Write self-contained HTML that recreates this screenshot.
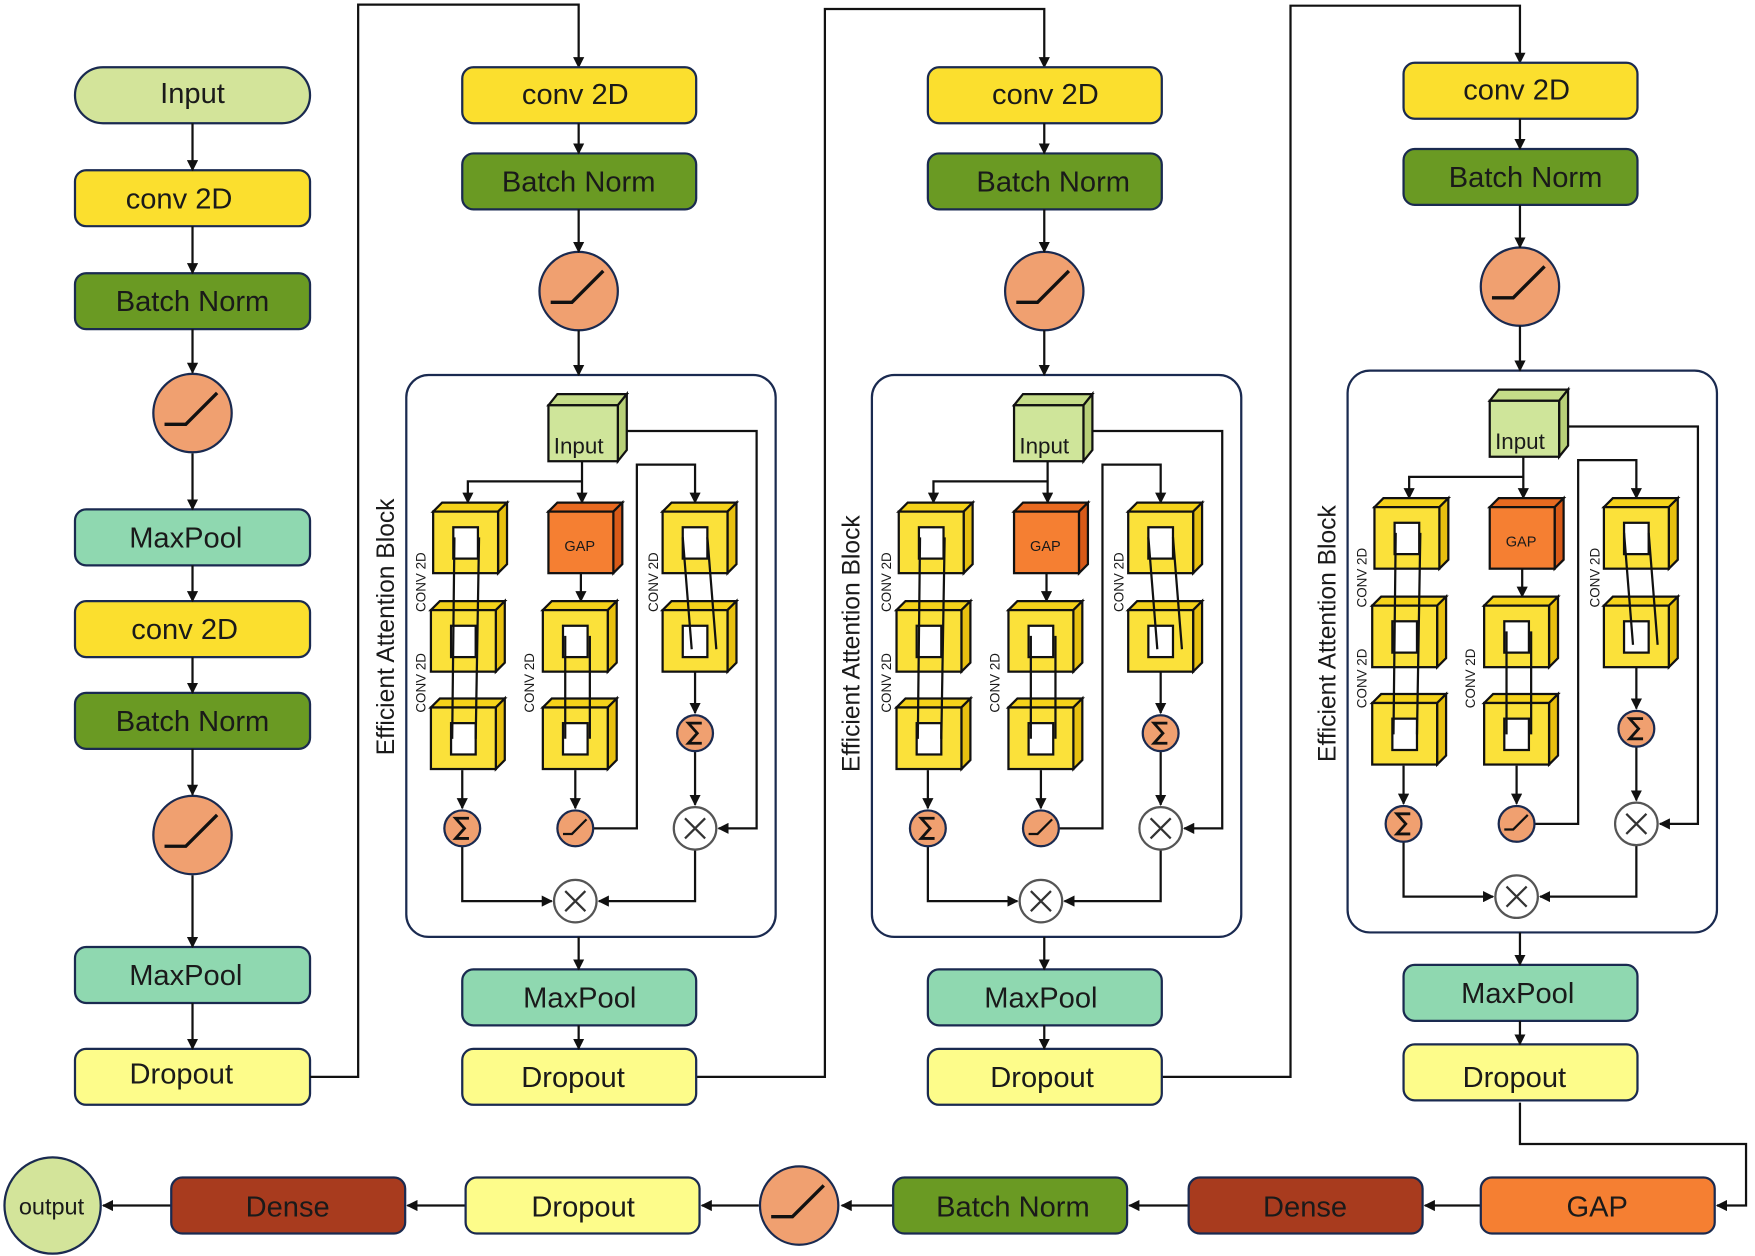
<!DOCTYPE html>
<html><head><meta charset="utf-8"><style>
html,body{margin:0;padding:0;background:#fff}
svg{display:block}
text{font-family:"Liberation Sans",Arial,sans-serif;fill:#1a1a1a}
</style></head><body>
<svg width="1755" height="1256" viewBox="0 0 1568 1122" xmlns="http://www.w3.org/2000/svg">
<defs>
<marker id="ar" markerWidth="10" markerHeight="10" refX="9" refY="5" orient="auto" markerUnits="userSpaceOnUse"><path d="M0,0 L10,5 L0,10 z" fill="#111"/></marker>
<g id="cy">
 <polygon points="0,8 8,0 66,0 58,8" fill="#f5d21a" stroke="#111" stroke-width="2"/>
 <polygon points="58,8 66,0 66,55 58,63" fill="#e8c010" stroke="#111" stroke-width="2"/>
 <rect x="0" y="8" width="58" height="55" fill="#fbe13a" stroke="#111" stroke-width="2"/>
 <rect x="18" y="22" width="22" height="28" fill="#fff" stroke="#111" stroke-width="2"/>
</g>
<g id="cg">
 <polygon points="0,8 8,0 66,0 58,8" fill="#e86a20" stroke="#111" stroke-width="2"/>
 <polygon points="58,8 66,0 66,55 58,63" fill="#d85a18" stroke="#111" stroke-width="2"/>
 <rect x="0" y="8" width="58" height="55" fill="#f57f32" stroke="#111" stroke-width="2"/>
</g>
<g id="ci">
 <polygon points="0,10 8,0 70,0 62,10" fill="#c5dc88" stroke="#111" stroke-width="2"/>
 <polygon points="62,10 70,0 70,50 62,60" fill="#b8d078" stroke="#111" stroke-width="2"/>
 <rect x="0" y="10" width="62" height="50" fill="#cfe59a" stroke="#111" stroke-width="2"/>
</g>
<g id="relu">
 <circle r="35" fill="#f0a070" stroke="#1a2a50" stroke-width="2"/>
 <path d="M-25,10 L-6,10 L22,-18" fill="none" stroke="#111" stroke-width="3"/>
</g>
<g id="srelu">
 <circle r="16" fill="#f0a070" stroke="#1a2a50" stroke-width="2"/>
 <path d="M-11,5 L-3,5 L10,-8" fill="none" stroke="#111" stroke-width="2"/>
</g>
<g id="sig">
 <circle r="16" fill="#f0a070" stroke="#1a2a50" stroke-width="2"/>
 <path d="M6,-9 L-6,-9 L2,0 L-6,9 L6,9" fill="none" stroke="#111" stroke-width="2.5"/>
</g>
<g id="mul">
 <circle r="19" fill="#fff" stroke="#555" stroke-width="2"/>
 <path d="M-9,-9 L9,9 M9,-9 L-9,9" stroke="#333" stroke-width="2"/>
</g>
</defs>

<g stroke="#1a2a50" stroke-width="2">
<!-- left column -->
<rect x="67" y="60" width="210" height="50" rx="25" fill="#d3e49a"/>
<rect x="67" y="152" width="210" height="50" rx="10" fill="#fbdf2e"/>
<rect x="67" y="244" width="210" height="50" rx="10" fill="#6a9a23"/>
<rect x="67" y="455" width="210" height="50" rx="10" fill="#8fd8b0"/>
<rect x="67" y="537" width="210" height="50" rx="10" fill="#fbdf2e"/>
<rect x="67" y="619" width="210" height="50" rx="10" fill="#6a9a23"/>
<rect x="67" y="846" width="210" height="50" rx="10" fill="#8fd8b0"/>
<rect x="67" y="937" width="210" height="50" rx="10" fill="#fdfc8a"/>
</g>
<use href="#relu" x="172" y="369"/>
<use href="#relu" x="172" y="746"/>
<g stroke="#111" stroke-width="2" fill="none" marker-end="url(#ar)">
<path d="M172,110 V152"/><path d="M172,202 V244"/><path d="M172,294 V333"/><path d="M172,405 V455"/>
<path d="M172,505 V537"/><path d="M172,587 V619"/><path d="M172,669 V710"/><path d="M172,782 V846"/><path d="M172,896 V937"/>
<path d="M277,962 H320 V4 H517 V60"/>
<path d="M622,962 H737 V8 H933 V60"/>
<path d="M1038,962 H1153 V5 H1358 V56"/>
<path d="M1358,985 V1022 H1560 V1077 H1534"/>
<path d="M1323,1077 H1273"/><path d="M1062,1077 H1009"/><path d="M798,1077 H752"/><path d="M678,1077 H627"/><path d="M416,1077 H364"/><path d="M153,1077 H92"/>
</g>
<g font-size="26" text-anchor="middle">
<text x="172" y="92">Input</text>
<text x="160" y="186">conv 2D</text>
<text x="172" y="278">Batch Norm</text>
<text x="166" y="489">MaxPool</text>
<text x="165" y="571">conv 2D</text>
<text x="172" y="653">Batch Norm</text>
<text x="166" y="880">MaxPool</text>
<text x="162" y="968">Dropout</text>
</g>

<!-- bottom row -->
<g stroke="#1a2a50" stroke-width="2">
<rect x="1323" y="1052" width="209" height="50" rx="10" fill="#f57f32"/>
<rect x="1062" y="1052" width="209" height="50" rx="10" fill="#a83b1e"/>
<rect x="798" y="1052" width="209" height="50" rx="10" fill="#6a9a23"/>
<rect x="416" y="1052" width="209" height="50" rx="10" fill="#fdfc8a"/>
<rect x="153" y="1052" width="209" height="50" rx="10" fill="#a83b1e"/>
<circle cx="47" cy="1077" r="43" fill="#d3e49a"/>
</g>
<use href="#relu" x="714" y="1077"/>
<g font-size="26" text-anchor="middle">
<text x="1427" y="1087">GAP</text>
<text x="1166" y="1087">Dense</text>
<text x="905" y="1087">Batch Norm</text>
<text x="521" y="1087">Dropout</text>
<text x="257" y="1087">Dense</text>
<text x="46" y="1085" font-size="21">output</text>
</g>

<!-- column 1 -->
<g id="col1">
<g stroke="#1a2a50" stroke-width="2">
<rect x="413" y="60" width="209" height="50" rx="10" fill="#fbdf2e"/>
<rect x="413" y="137" width="209" height="50" rx="10" fill="#6a9a23"/>
<rect x="363" y="335" width="330" height="502" rx="20" fill="none"/>
<rect x="413" y="866" width="209" height="50" rx="10" fill="#8fd8b0"/>
<rect x="413" y="937" width="209" height="50" rx="10" fill="#fdfc8a"/>
</g>
<use href="#relu" x="517" y="260"/>
<g stroke="#111" stroke-width="2" fill="none" marker-end="url(#ar)">
<path d="M517,110 V137"/><path d="M517,187 V225"/><path d="M517,295 V335"/><path d="M517,837 V866"/><path d="M517,916 V937"/>
<path d="M520,412 V449"/><path d="M520,430 H418 V449"/>
<path d="M552,385 H676 V740 H642"/>
<path d="M530,740 H569 V415 H621 V449"/>
<path d="M519,510 V537"/>
<path d="M413,688 V722"/><path d="M514,688 V722"/>
<path d="M621,598 V637"/><path d="M621,671 V719"/>
<path d="M413,756 V805 H493"/><path d="M621,759 V805 H535"/>
</g>
<use href="#ci" x="490" y="352"/>
<use href="#cy" x="387" y="449"/>
<use href="#cy" x="385" y="537"/>
<use href="#cy" x="385" y="624"/>
<use href="#cg" x="490" y="449"/>
<use href="#cy" x="485" y="537"/>
<use href="#cy" x="485" y="624"/>
<use href="#cy" x="592" y="449"/>
<use href="#cy" x="592" y="537"/>
<g stroke="#111" stroke-width="2" fill="none">
<path d="M406,480 L404,660 M428,480 L425,660"/>
<path d="M505,568 V660 M527,568 V660"/>
<path d="M610,480 L618,580 M632,480 L640,580"/>
</g>
<use href="#sig" x="413" y="740"/>
<use href="#srelu" x="514" y="740"/>
<use href="#sig" x="621" y="655"/>
<use href="#mul" x="621" y="740"/>
<use href="#mul" x="514" y="805"/>
<text x="517" y="405" font-size="20" text-anchor="middle">Input</text>
<text x="518" y="492" font-size="13" text-anchor="middle">GAP</text>
<text transform="translate(352,560) rotate(-90)" font-size="22" text-anchor="middle">Efficient Attention Block</text>
<g font-size="12" fill="#333" text-anchor="middle">
<text transform="translate(380,520) rotate(-90)">CONV 2D</text>
<text transform="translate(380,610) rotate(-90)">CONV 2D</text>
<text transform="translate(477,610) rotate(-90)">CONV 2D</text>
<text transform="translate(588,520) rotate(-90)">CONV 2D</text>
</g>
<g font-size="26" text-anchor="middle">
<text x="514" y="93">conv 2D</text>
<text x="517" y="171">Batch Norm</text>
<text x="518" y="900">MaxPool</text>
<text x="512" y="971">Dropout</text>
</g>
</g>

<!-- column 2 -->
<g transform="translate(416,0)">
<g stroke="#1a2a50" stroke-width="2">
<rect x="413" y="60" width="209" height="50" rx="10" fill="#fbdf2e"/>
<rect x="413" y="137" width="209" height="50" rx="10" fill="#6a9a23"/>
<rect x="363" y="335" width="330" height="502" rx="20" fill="none"/>
<rect x="413" y="866" width="209" height="50" rx="10" fill="#8fd8b0"/>
<rect x="413" y="937" width="209" height="50" rx="10" fill="#fdfc8a"/>
</g>
<use href="#relu" x="517" y="260"/>
<g stroke="#111" stroke-width="2" fill="none" marker-end="url(#ar)">
<path d="M517,110 V137"/><path d="M517,187 V225"/><path d="M517,295 V335"/><path d="M517,837 V866"/><path d="M517,916 V937"/>
<path d="M520,412 V449"/><path d="M520,430 H418 V449"/>
<path d="M552,385 H676 V740 H642"/>
<path d="M530,740 H569 V415 H621 V449"/>
<path d="M519,510 V537"/>
<path d="M413,688 V722"/><path d="M514,688 V722"/>
<path d="M621,598 V637"/><path d="M621,671 V719"/>
<path d="M413,756 V805 H493"/><path d="M621,759 V805 H535"/>
</g>
<use href="#ci" x="490" y="352"/>
<use href="#cy" x="387" y="449"/>
<use href="#cy" x="385" y="537"/>
<use href="#cy" x="385" y="624"/>
<use href="#cg" x="490" y="449"/>
<use href="#cy" x="485" y="537"/>
<use href="#cy" x="485" y="624"/>
<use href="#cy" x="592" y="449"/>
<use href="#cy" x="592" y="537"/>
<g stroke="#111" stroke-width="2" fill="none">
<path d="M406,480 L404,660 M428,480 L425,660"/>
<path d="M505,568 V660 M527,568 V660"/>
<path d="M610,480 L618,580 M632,480 L640,580"/>
</g>
<use href="#sig" x="413" y="740"/>
<use href="#srelu" x="514" y="740"/>
<use href="#sig" x="621" y="655"/>
<use href="#mul" x="621" y="740"/>
<use href="#mul" x="514" y="805"/>
<text x="517" y="405" font-size="20" text-anchor="middle">Input</text>
<text x="518" y="492" font-size="13" text-anchor="middle">GAP</text>
<text transform="translate(352,575) rotate(-90)" font-size="22" text-anchor="middle">Efficient Attention Block</text>
<g font-size="12" fill="#333" text-anchor="middle">
<text transform="translate(380,520) rotate(-90)">CONV 2D</text>
<text transform="translate(380,610) rotate(-90)">CONV 2D</text>
<text transform="translate(477,610) rotate(-90)">CONV 2D</text>
<text transform="translate(588,520) rotate(-90)">CONV 2D</text>
</g>
<g font-size="26" text-anchor="middle">
<text x="518" y="93">conv 2D</text>
<text x="525" y="171">Batch Norm</text>
<text x="514" y="900">MaxPool</text>
<text x="515" y="971">Dropout</text>
</g>
</g>

<!-- column 3 -->
<g transform="translate(841,-4)">
<g stroke="#1a2a50" stroke-width="2">
<rect x="413" y="60" width="209" height="50" rx="10" fill="#fbdf2e"/>
<rect x="413" y="137" width="209" height="50" rx="10" fill="#6a9a23"/>
<rect x="363" y="335" width="330" height="502" rx="20" fill="none"/>
<rect x="413" y="866" width="209" height="50" rx="10" fill="#8fd8b0"/>
<rect x="413" y="937" width="209" height="50" rx="10" fill="#fdfc8a"/>
</g>
<use href="#relu" x="517" y="260"/>
<g stroke="#111" stroke-width="2" fill="none" marker-end="url(#ar)">
<path d="M517,110 V137"/><path d="M517,187 V225"/><path d="M517,295 V335"/><path d="M517,837 V866"/><path d="M517,916 V937"/>
<path d="M520,412 V449"/><path d="M520,430 H418 V449"/>
<path d="M552,385 H676 V740 H642"/>
<path d="M530,740 H569 V415 H621 V449"/>
<path d="M519,510 V537"/>
<path d="M413,688 V722"/><path d="M514,688 V722"/>
<path d="M621,598 V637"/><path d="M621,671 V719"/>
<path d="M413,756 V805 H493"/><path d="M621,759 V805 H535"/>
</g>
<use href="#ci" x="490" y="352"/>
<use href="#cy" x="387" y="449"/>
<use href="#cy" x="385" y="537"/>
<use href="#cy" x="385" y="624"/>
<use href="#cg" x="490" y="449"/>
<use href="#cy" x="485" y="537"/>
<use href="#cy" x="485" y="624"/>
<use href="#cy" x="592" y="449"/>
<use href="#cy" x="592" y="537"/>
<g stroke="#111" stroke-width="2" fill="none">
<path d="M406,480 L404,660 M428,480 L425,660"/>
<path d="M505,568 V660 M527,568 V660"/>
<path d="M610,480 L618,580 M632,480 L640,580"/>
</g>
<use href="#sig" x="413" y="740"/>
<use href="#srelu" x="514" y="740"/>
<use href="#sig" x="621" y="655"/>
<use href="#mul" x="621" y="740"/>
<use href="#mul" x="514" y="805"/>
<text x="517" y="405" font-size="20" text-anchor="middle">Input</text>
<text x="518" y="492" font-size="13" text-anchor="middle">GAP</text>
<text transform="translate(352,570) rotate(-90)" font-size="22" text-anchor="middle">Efficient Attention Block</text>
<g font-size="12" fill="#333" text-anchor="middle">
<text transform="translate(380,520) rotate(-90)">CONV 2D</text>
<text transform="translate(380,610) rotate(-90)">CONV 2D</text>
<text transform="translate(477,610) rotate(-90)">CONV 2D</text>
<text transform="translate(588,520) rotate(-90)">CONV 2D</text>
</g>
<g font-size="26" text-anchor="middle">
<text x="514" y="93">conv 2D</text>
<text x="522" y="171">Batch Norm</text>
<text x="515" y="900">MaxPool</text>
<text x="512" y="975">Dropout</text>
</g>
</g>
</svg>
</body></html>
